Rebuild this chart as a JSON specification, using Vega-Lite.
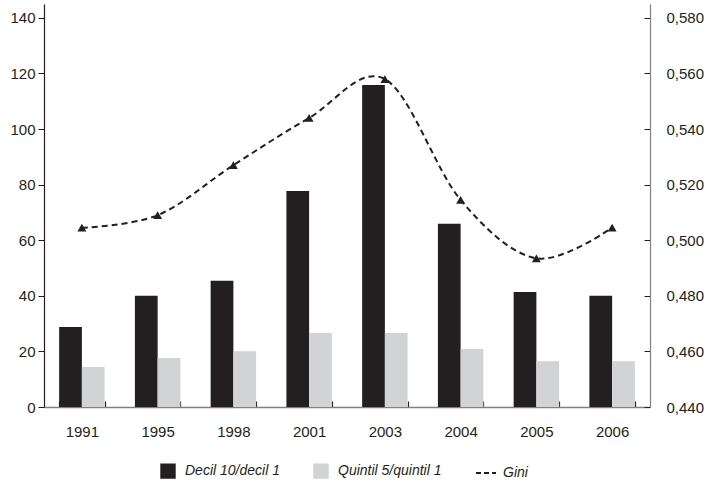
{
  "$schema": "https://vega.github.io/schema/vega-lite/v6.json",
  "width": 606,
  "height": 403,
  "autosize": {"type": "none"},
  "padding": {"left": 44, "top": 4, "right": 59, "bottom": 85},
  "config": {
    "view": {"stroke": null},
    "font": "Liberation Sans",
    "axis": {"grid": false, "labelFontSize": 15, "labelColor": "#231f20", "labelFont": "Liberation Sans", "tickColor": "#231f20", "title": null}
  },
  "data": {
    "values": [
      {"year": "1991", "serie": "Decil 10/decil 1", "value": 28.8},
      {"year": "1995", "serie": "Decil 10/decil 1", "value": 40.0},
      {"year": "1998", "serie": "Decil 10/decil 1", "value": 45.4},
      {"year": "2001", "serie": "Decil 10/decil 1", "value": 77.7},
      {"year": "2003", "serie": "Decil 10/decil 1", "value": 115.9},
      {"year": "2004", "serie": "Decil 10/decil 1", "value": 65.9},
      {"year": "2005", "serie": "Decil 10/decil 1", "value": 41.4},
      {"year": "2006", "serie": "Decil 10/decil 1", "value": 40.0},
      {"year": "1991", "serie": "Quintil 5/quintil 1", "value": 14.4},
      {"year": "1995", "serie": "Quintil 5/quintil 1", "value": 17.6},
      {"year": "1998", "serie": "Quintil 5/quintil 1", "value": 20.1},
      {"year": "2001", "serie": "Quintil 5/quintil 1", "value": 26.6},
      {"year": "2003", "serie": "Quintil 5/quintil 1", "value": 26.6},
      {"year": "2004", "serie": "Quintil 5/quintil 1", "value": 20.9},
      {"year": "2005", "serie": "Quintil 5/quintil 1", "value": 16.5},
      {"year": "2006", "serie": "Quintil 5/quintil 1", "value": 16.5},
      {"year": "1991", "serie": "Gini", "value": 0.5045},
      {"year": "1995", "serie": "Gini", "value": 0.509},
      {"year": "1998", "serie": "Gini", "value": 0.527},
      {"year": "2001", "serie": "Gini", "value": 0.544},
      {"year": "2003", "serie": "Gini", "value": 0.558},
      {"year": "2004", "serie": "Gini", "value": 0.5145},
      {"year": "2005", "serie": "Gini", "value": 0.4935},
      {"year": "2006", "serie": "Gini", "value": 0.5045}
    ]
  },
  "encoding": {
    "x": {
      "field": "year", "type": "ordinal",
      "scale": {"paddingInner": 0.4, "paddingOuter": 0.2},
      "axis": {"labelAngle": 0, "domainColor": "#808080", "domainWidth": 1.5, "tickBand": "extent", "tickSize": -6, "tickWidth": 1.2, "labelPadding": 23}
    },
    "color": {
      "field": "serie", "type": "nominal",
      "scale": {"domain": ["Decil 10/decil 1", "Quintil 5/quintil 1", "Gini"], "range": ["#231f20", "#d1d3d4", "#231f20"]},
      "legend": {
        "title": null, "orient": "none", "legendX": 116, "legendY": 459, "direction": "horizontal",
        "labelFontStyle": "italic", "labelFontSize": 14, "labelColor": "#231f20",
        "symbolSize": 180, "columnPadding": 30, "labelOffset": 9,
        "encode": {
          "symbols": {
            "update": {
              "shape": {"signal": "datum.label === 'Gini' ? 'stroke' : 'square'"},
              "size": {"signal": "datum.label === 'Gini' ? 400 : 180"},
              "fill": {"signal": "datum.label === 'Gini' ? 'transparent' : (datum.label === 'Decil 10/decil 1' ? '#231f20' : '#d1d3d4')"},
              "stroke": {"signal": "datum.label === 'Gini' ? '#231f20' : 'transparent'"},
              "strokeDash": {"signal": "datum.label === 'Gini' ? [5, 3] : [1, 0]"},
              "strokeWidth": {"value": 2},
              "opacity": {"value": 1}
            }
          }
        }
      }
    }
  },
  "layer": [
    {
      "transform": [{"filter": "datum.serie !== 'Gini'"}],
      "mark": {"type": "bar"},
      "encoding": {
        "xOffset": {"field": "serie", "sort": ["Decil 10/decil 1", "Quintil 5/quintil 1"]},
        "y": {
          "field": "value", "type": "quantitative",
          "scale": {"domain": [0, 145], "nice": false},
          "axis": {"values": [0, 20, 40, 60, 80, 100, 120, 140], "domainColor": "#231f20", "domainWidth": 1.2, "tickSize": 6, "labelPadding": 3}
        }
      }
    },
    {
      "transform": [{"filter": "datum.serie === 'Gini'"}],
      "encoding": {
        "y": {
          "field": "value", "type": "quantitative",
          "scale": {"domain": [0.44, 0.585], "nice": false, "zero": false},
          "axis": {"orient": "right", "values": [0.44, 0.46, 0.48, 0.5, 0.52, 0.54, 0.56, 0.58], "labelExpr": "replace(format(datum.value, '.3f'), '.', ',')", "domainColor": "#808080", "domainWidth": 1.2, "tickSize": -6, "labelPadding": 22}
        }
      },
      "layer": [
        {"mark": {"type": "line", "interpolate": "cardinal", "strokeDash": [6, 4], "strokeWidth": 2}},
        {"mark": {"type": "point", "shape": "triangle-up", "filled": true, "size": 80, "opacity": 1}}
      ]
    }
  ],
  "resolve": {"scale": {"y": "independent"}}
}
